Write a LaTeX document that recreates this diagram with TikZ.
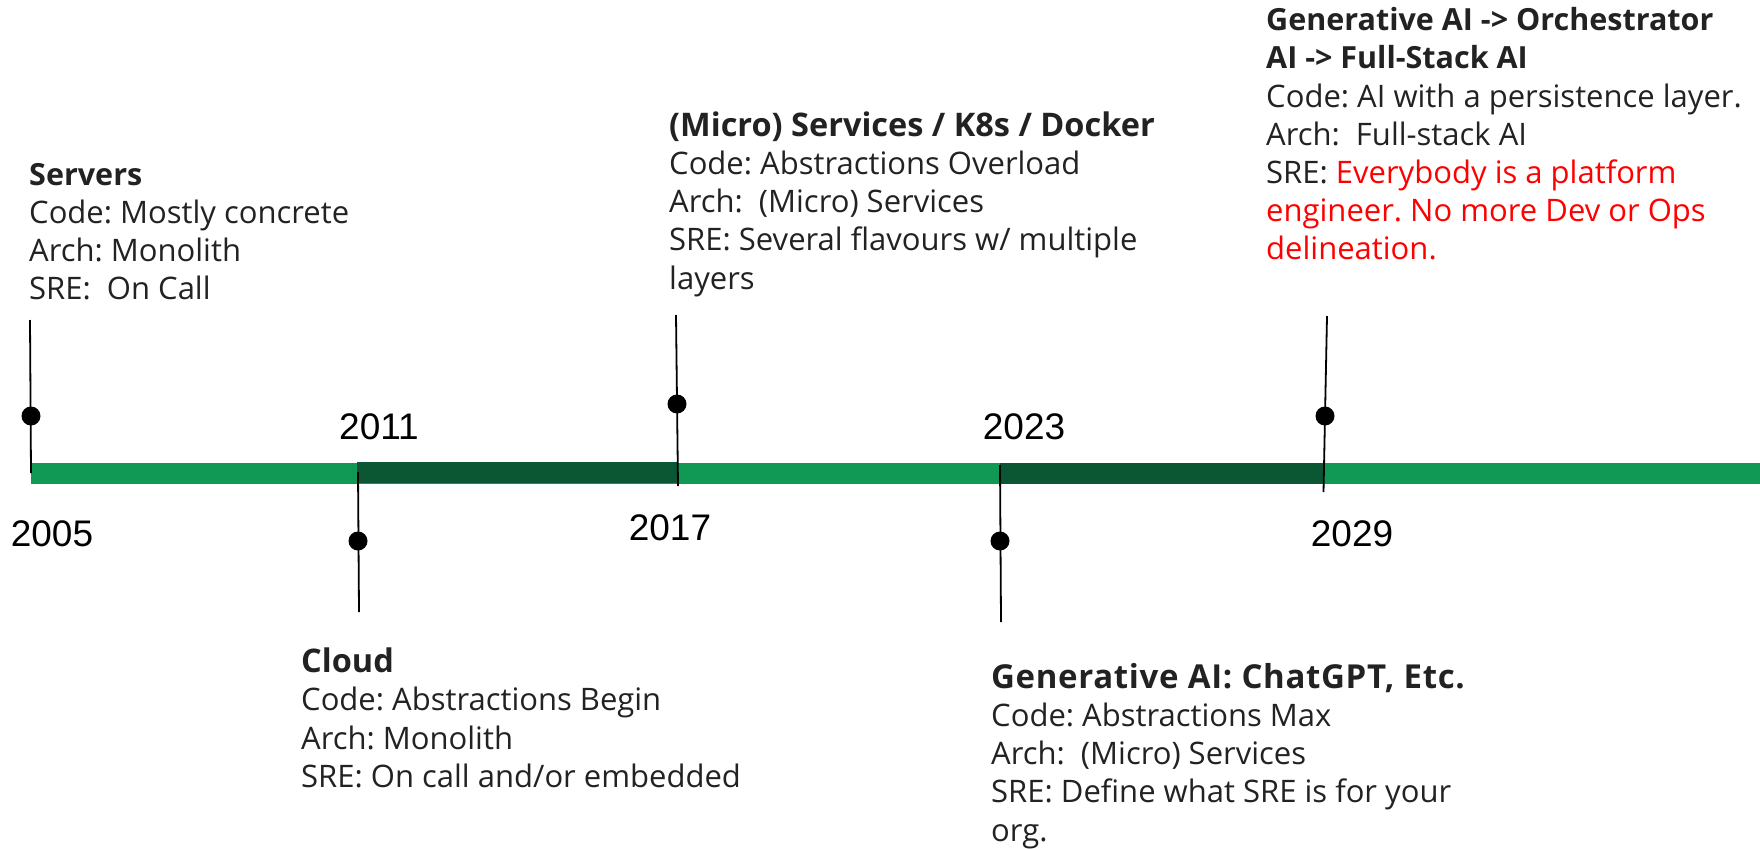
\documentclass[tikz,border=0pt]{standalone}
\usepackage{fontspec}
\setmainfont{Open Sans}
\newfontfamily\yearfont{Liberation Sans}
\definecolor{barlight}{HTML}{109954}
\definecolor{bardark}{HTML}{0B5734}
\definecolor{ink}{HTML}{222222}
\definecolor{alert}{HTML}{FF0000}
\frenchspacing

\begin{document}
\begin{tikzpicture}[x=1pt,y=-1pt,
  body/.style={anchor=base west, inner sep=0pt, text=ink, font=\fontsize{31}{38}\selectfont},
  head/.style={body, font=\fontsize{30.5}{38}\selectfont\bfseries},
  bighead/.style={body, font=\fontsize{32.5}{38}\selectfont\bfseries},
  year/.style={inner sep=0pt, text=black, font=\yearfont\fontsize{37}{40}\selectfont},
  stem/.style={line width=1.8pt, black},
  dot/.style={circle, fill=black, inner sep=0pt, minimum size=19pt},
]
\useasboundingbox (0,0) rectangle (1760,848);

% timeline bar with the two highlighted periods
\fill[barlight] (31,463) rectangle (1760,484);
\fill[bardark] (357,462) rectangle (678,483);
\fill[bardark] (1000,463) rectangle (1323,484);

% stems and markers
\coordinate (t05) at (30,320);   \coordinate (b05) at (31,473);
\coordinate (t11) at (358,472);  \coordinate (b11) at (359,612);
\coordinate (t17) at (676,315);  \coordinate (b17) at (678,486);
\coordinate (t23) at (1000,465); \coordinate (b23) at (1001,622);
\coordinate (t29) at (1327,316); \coordinate (b29) at (1323.5,492);
\draw[stem] (t05) -- (b05);
\draw[stem] (t11) -- (b11);
\draw[stem] (t17) -- (b17);
\draw[stem] (t23) -- (b23);
\draw[stem] (t29) -- (b29);
\node[dot] (d05) at (31,416) {};
\node[dot] (d11) at (358,541) {};
\node[dot] (d17) at (677,404) {};
\node[dot] (d23) at (1000,541) {};
\node[dot] (d29) at (1325,416) {};

% years
\node[year] (y05) at (52,534) {2005};
\node[year] (y11) at (379,427) {2011};
\node[year] (y17) at (670,528) {2017};
\node[year] (y23) at (1024,427) {2023};
\node[year] (y29) at (1352,534) {2029};

% Servers
\node[head] (srv0) at (29,185.5) {Servers};
\foreach \t [count=\i] in {{Code: Mostly concrete},{Arch: Monolith},{SRE:~ On Call}}
  \node[body] (srv\i) at (29,185.5+38*\i) {\t};

% Cloud
\node[bighead] (cld0) at (301,672) {Cloud};
\foreach \t [count=\i] in {{Code: Abstractions Begin},{Arch: Monolith},{SRE: On call and/or embedded}}
  \node[body] (cld\i) at (301,672+38.5*\i) {\t};

% Micro services
\node[bighead] (mic0) at (669,136) {(Micro) Services / K8s / Docker};
\foreach \t [count=\i] in {{Code: Abstractions Overload},{Arch:~ (Micro) Services},{SRE: Several flavours w/ multiple},{layers}}
  \node[body] (mic\i) at (669,136+38.3*\i) {\t};

% Generative AI
\node[bighead, font=\fontsize{33}{38}\selectfont\bfseries\addfontfeature{LetterSpace=2}] (gen0) at (991,688) {Generative AI: ChatGPT, Etc.};
\foreach \t [count=\i] in {{Code: Abstractions Max},{Arch:~ (Micro) Services},{SRE: Define what SRE is for your},{org.}}
  \node[body] (gen\i) at (991,688+38.3*\i) {\t};

% Full-stack AI
\node[head] (fsa0) at (1266,31) {Generative AI -> Orchestrator};
\node[head] (fsa1) at (1266,69) {AI -> Full-Stack AI};
\node[body] (fsa2) at (1266,107) {Code: AI with a persistence layer.};
\node[body] (fsa3) at (1266,145) {Arch:~ Full-stack AI};
\node[body] (fsa4) at (1266,183) {SRE: \textcolor{alert}{Everybody is a platform}};
\node[body, text=alert] (fsa5) at (1266,221) {engineer. No more Dev or Ops};
\node[body, text=alert] (fsa6) at (1266,259) {delineation.};
\end{tikzpicture}
\end{document}
